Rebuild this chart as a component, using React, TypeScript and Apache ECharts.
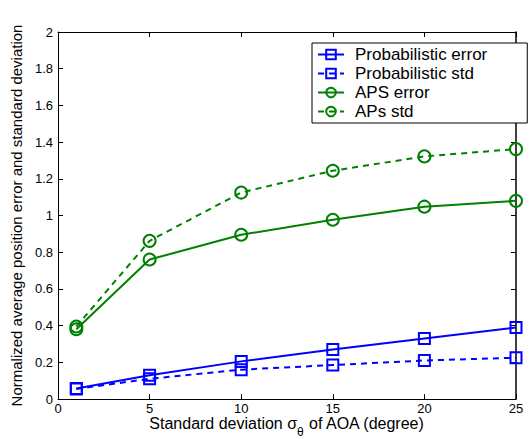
import React, { useEffect, useRef } from "react";
import * as echarts from "echarts";

const xValues = [1, 5, 10, 15, 20, 25];
const probError = [0.057, 0.13, 0.205, 0.27, 0.33, 0.39];
const probStd = [0.055, 0.11, 0.16, 0.185, 0.21, 0.225];
const apsError = [0.38, 0.76, 0.895, 0.977, 1.048, 1.08];
const apsStd = [0.395, 0.862, 1.125, 1.244, 1.322, 1.362];
const seriesNames = ["Probabilistic error", "Probabilistic std", "APS error", "APs std"];

const BLUE = "#0000ff";
const GREEN = "#008000";
const FONT = "'Liberation Sans', Arial, Helvetica, sans-serif";

function pairs(ys: number[]) {
  return xValues.map((x, i) => [x, ys[i]]);
}

export default function App() {
  const ref = useRef<HTMLDivElement>(null);
  useEffect(() => {
    document.body.style.margin = "0";
    const chart = echarts.init(ref.current!, null, { renderer: "svg" });
    const mk = (name: string, data: number[], color: string, dashed: boolean, symbol: string, size: number) => ({
      name,
      type: "line",
      data: pairs(data),
      symbol,
      symbolSize: size,
      showSymbol: true,
      color,
      lineStyle: { color, width: 2, type: dashed ? [6, 5] : "solid" },
      itemStyle: { color: "rgba(0,0,0,0)", borderColor: color, borderWidth: 2 },
      z: 3,
    });
    chart.setOption({
      animation: false,
      backgroundColor: "#ffffff",
      textStyle: { fontFamily: FONT },
      grid: { left: 58, right: 14, top: 32, bottom: 40, outerBoundsMode: "none", containLabel: false },
      legend: {
        orient: "vertical",
        left: 312,
        top: 43,
        data: seriesNames,
        itemWidth: 26,
        itemHeight: 12,
        itemGap: 0,
        padding: [2, 40, 2, 5],
        borderColor: "#000",
        borderWidth: 1,
        backgroundColor: "#fff",
        textStyle: { fontSize: 17, lineHeight: 19, color: "#000", fontFamily: FONT, padding: [0, 0, 0, 6] },
      },
      xAxis: [
        {
          type: "value",
          min: 0,
          max: 25,
          interval: 5,
          position: "bottom",
          name: "{n|Standard deviation σ}{sub|θ}{n| of AOA (degree)}",
          nameLocation: "middle",
          nameGap: 16,
          nameMoveOverlap: false,
          nameTextStyle: {
            fontSize: 16,
            color: "#000",
            fontFamily: FONT,
            verticalAlign: "top",
            rich: {
              n: { fontSize: 16, lineHeight: 15, verticalAlign: "top", fontFamily: FONT, color: "#000" },
              sub: { fontSize: 12, lineHeight: 13, padding: [11, 0, 0, 0], verticalAlign: "top", fontFamily: FONT, color: "#000" },
            },
          },
          axisLine: { show: true, onZero: false, lineStyle: { color: "#000", width: 1 } },
          axisTick: { show: true, inside: true, length: 5, lineStyle: { color: "#000" } },
          axisLabel: { fontSize: 13, lineHeight: 13, color: "#000", margin: 3, fontFamily: FONT },
          splitLine: { show: false },
        },
        {
          type: "value",
          min: 0,
          max: 25,
          interval: 5,
          position: "top",
          axisLine: { show: true, onZero: false, lineStyle: { color: "#000", width: 1 } },
          axisTick: { show: true, inside: true, length: 5, lineStyle: { color: "#000" } },
          axisLabel: { show: false },
          splitLine: { show: false },
        },
      ],
      yAxis: [
        {
          type: "value",
          min: 0,
          max: 2,
          interval: 0.2,
          position: "left",
          name: "Normalized average position error and standard deviation",
          nameLocation: "middle",
          nameGap: 34,
          nameMoveOverlap: false,
          nameTextStyle: { fontSize: 15, color: "#000", fontFamily: FONT },
          axisLine: { show: true, onZero: false, lineStyle: { color: "#000", width: 1 } },
          axisTick: { show: true, inside: true, length: 5, lineStyle: { color: "#000" } },
          axisLabel: { fontSize: 13, color: "#000", margin: 5, fontFamily: FONT },
          splitLine: { show: false },
        },
        {
          type: "value",
          min: 0,
          max: 2,
          interval: 0.2,
          position: "right",
          axisLine: { show: true, onZero: false, lineStyle: { color: "#000", width: 1.5 } },
          axisTick: { show: true, inside: true, length: 5, lineStyle: { color: "#000" } },
          axisLabel: { show: false },
          splitLine: { show: false },
        },
      ],
      series: [
        mk(seriesNames[0], probError, BLUE, false, "rect", 11),
        mk(seriesNames[1], probStd, BLUE, true, "rect", 11),
        mk(seriesNames[2], apsError, GREEN, false, "circle", 12),
        mk(seriesNames[3], apsStd, GREEN, true, "circle", 12),
      ],
    });
    return () => chart.dispose();
  }, []);
  return <div ref={ref} style={{ width: 530, height: 439 }} />;
}
